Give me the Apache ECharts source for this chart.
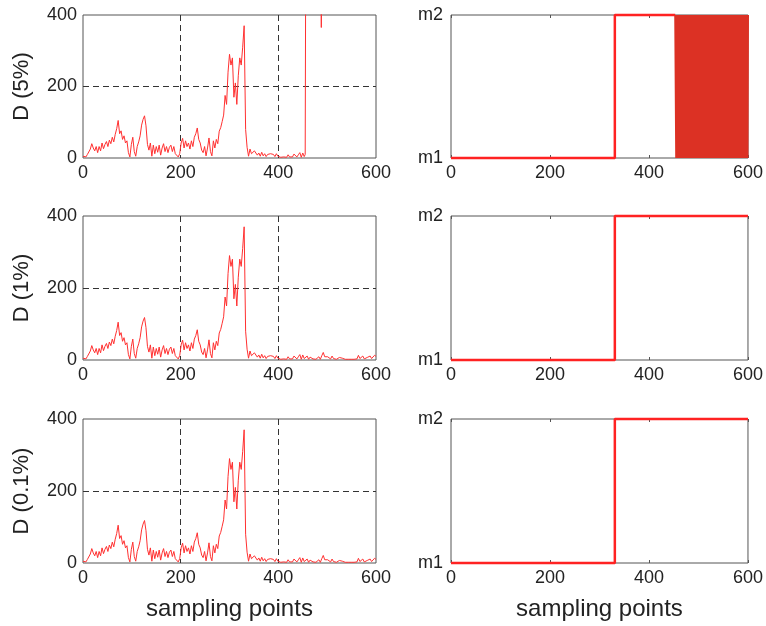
<!DOCTYPE html>
<html>
<head>
<meta charset="utf-8">
<script src="https://cdn.jsdelivr.net/npm/echarts@6/dist/echarts.min.js"></script>
<style>
  html, body { margin: 0; background: #fff; }
  #chart { width: 766px; height: 626px; }
</style>
</head>
<body>
<div id="chart"></div>
<script>
  // D statistic, one value every 3 sampling points (0..600)
  var dStep = 3;
  var dValues = [
    5, 8, 3, 10, 6, 25, 40, 28, 20, 32,
    15, 32, 20, 42, 26, 38, 46, 32, 50, 40,
    58, 45, 66, 82, 105, 68, 76, 52, 62, 42,
    48, 15, 3, 38, 58, 18, 5, 32, 45, 62,
    92, 108, 118, 90, 38, 22, 42, 5, 36, 12,
    32, 16, 36, 8, 28, 40, 18, 32, 15, 30,
    36, 18, 32, 12, 8, 3, 12, 42, 55, 28,
    48, 32, 42, 25, 48, 32, 58, 68, 84, 52,
    42, 22, 15, 32, 6, 28, 56, 18, 6, 48,
    28, 52, 40, 75, 85, 102, 120, 175, 150, 240,
    290, 260, 280, 170, 210, 150, 230, 280, 260, 310,
    370, 80, 30, 5, 25, 12, 8, 20, 25, 8,
    14, 5, 16, 6, 12, 4, 10, 6, 12, 7,
    10, 4, 12, 5, 6, 2, 7, 3, 6, 2,
    9, 3, 6, 3, 11, 16, 3, 9, 15, 2,
    14, 4, 7, 11, 2, 8, 13, 3, 7, 2,
    6, 9, 2, 12, 21, 9, 4, 9, 13, 3,
    11, 4, 9, 2, 5, 7, 2, 5, 6, 2,
    5, 2, 6, 2, 5, 2, 6, 3, 13, 4,
    2, 11, 3, 2, 7, 3, 11, 4, 9, 13,
    10
  ];
  // 5% threshold: D leaves the plot range after ~455
  var dEnd5 = 453;
  var dTail5 = [[455, 10], [456, 520], [487, 520], [488, 365], [489, 520], [600, 520]];

  // detected mode (1 = m1, 2 = m2)
  var modeSwitch = 331;
  var modeEnd5 = 453;
  var modeTailStart5 = 455;
  var modeTail5 =
    '12121212121212121212' + '12121212121212121212' + '12121212121212121212' +
    '12121212121212121212' + '12121212121212121212' + '12121212121212121212' +
    '12121212121212121212' + '121212';

  var yNames = ['D (5%)', 'D (1%)', 'D (0.1%)'];

  var font = 'Liberation Sans, Arial, Helvetica, sans-serif';
  var textColor = '#222';
  var dColor = '#ff3030';
  var modeColor = '#ff2222';
  var blockColor = '#dc3124';

  var dPoints = dValues.map(function (v, i) { return [i * dStep, v]; });
  var dPoints5 = dPoints.filter(function (p) { return p[0] <= dEnd5; }).concat(dTail5);

  var modePoints = [[0, 1], [modeSwitch, 1], [modeSwitch, 2], [600, 2]];
  var modePoints5 = [[0, 1], [modeSwitch, 1], [modeSwitch, 2], [modeEnd5, 2]];
  var blockPoints5 = [[modeEnd5, 2]];
  for (var k = 0; k < modeTail5.length; k++) {
    blockPoints5.push([modeTailStart5 + k, Number(modeTail5[k])]);
  }

  var rows = [{ top: 15, height: 143 }, { top: 216, height: 144 }, { top: 419, height: 144 }];

  var grid = [], xAxis = [], yAxis = [], series = [];
  var labelStyle = { color: textColor, fontSize: 18, fontFamily: font };
  var dashed = { show: true, showMinLine: false, showMaxLine: false, lineStyle: { color: '#333', type: [6, 4], width: 1 } };

  rows.forEach(function (row, r) {
    var gl = grid.length;
    grid.push({ left: 83, width: 293, top: row.top, height: row.height, show: true, borderColor: '#555', borderWidth: 1 });
    grid.push({ left: 451, width: 297, top: row.top, height: row.height, show: true, borderColor: '#555', borderWidth: 1 });

    var bottomName = r === 2 ? 'sampling points' : '';
    var xNameStyle = { color: textColor, fontSize: 24, fontFamily: font };
    var yNameStyle = { color: textColor, fontSize: 22, fontFamily: font };

    // left panel axes
    xAxis.push({
      type: 'value', gridIndex: gl, min: 0, max: 600, interval: 200,
      axisLine: { show: false }, axisTick: { show: false },
      axisLabel: Object.assign({ margin: 6 }, labelStyle),
      splitLine: dashed,
      name: bottomName, nameLocation: 'middle', nameGap: 34, nameTextStyle: xNameStyle
    });
    yAxis.push({
      type: 'value', gridIndex: gl, min: 0, max: 400, interval: 200,
      axisLine: { show: false }, axisTick: { show: false },
      axisLabel: Object.assign({ margin: 6 }, labelStyle),
      splitLine: dashed,
      name: yNames[r], nameLocation: 'middle', nameGap: 50, nameTextStyle: yNameStyle
    });

    // right panel axes
    xAxis.push({
      type: 'value', gridIndex: gl + 1, min: 0, max: 600, interval: 200,
      axisLine: { show: false },
      axisTick: { show: true, inside: true, length: 3, lineStyle: { color: '#555' } },
      axisLabel: Object.assign({ margin: 6 }, labelStyle),
      splitLine: { show: false },
      name: bottomName, nameLocation: 'middle', nameGap: 34, nameTextStyle: xNameStyle
    });
    yAxis.push({
      type: 'value', gridIndex: gl + 1, min: 1, max: 2, interval: 1,
      axisLine: { show: false }, axisTick: { show: false },
      axisLabel: Object.assign({ margin: 8, formatter: function (v) { return 'm' + v; } }, labelStyle),
      splitLine: { show: false }
    });

    var xl = gl, xr = gl + 1;
    series.push({
      type: 'line', xAxisIndex: xl, yAxisIndex: xl, showSymbol: false, symbol: 'none',
      data: r === 0 ? dPoints5 : dPoints,
      lineStyle: { color: dColor, width: 1 }, animation: false, clip: true
    });
    series.push({
      type: 'line', xAxisIndex: xr, yAxisIndex: xr, showSymbol: false, symbol: 'none',
      data: r === 0 ? modePoints5 : modePoints,
      lineStyle: { color: modeColor, width: 2.5 }, animation: false, clip: false, z: 3
    });
    if (r === 0) {
      series.push({
        type: 'line', xAxisIndex: xr, yAxisIndex: xr, showSymbol: false, symbol: 'none',
        data: blockPoints5,
        lineStyle: { color: blockColor, width: 2 }, animation: false, clip: false, z: 3
      });
    }
  });

  // top tick marks on the right panels
  rows.forEach(function (row, r) {
    xAxis.push({
      type: 'value', gridIndex: r * 2 + 1, position: 'top', min: 0, max: 600, interval: 200,
      axisLine: { show: false },
      axisTick: { show: true, inside: true, length: 3, lineStyle: { color: '#555' } },
      axisLabel: { show: false }, splitLine: { show: false }
    });
  });

  var chart = echarts.init(document.getElementById('chart'));
  chart.setOption({
    animation: false,
    backgroundColor: '#fff',
    grid: grid,
    xAxis: xAxis,
    yAxis: yAxis,
    series: series
  });
</script>
</body>
</html>
